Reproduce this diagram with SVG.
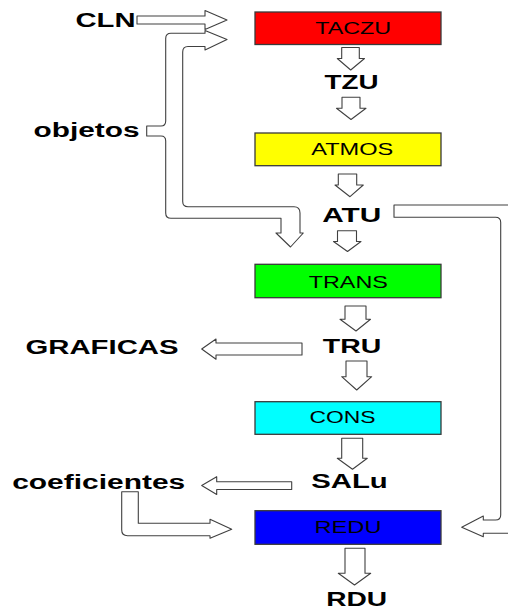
<svg xmlns="http://www.w3.org/2000/svg" width="508" height="609" viewBox="0 0 508 609">
<style>
.box{stroke:#3a3a3a;stroke-width:1.3}
.bl{font-family:"Liberation Sans",Arial,sans-serif;font-size:16.5px;fill:#000}
.lb{font-family:"Liberation Sans",Arial,sans-serif;font-size:20px;font-weight:bold;fill:#000}
.ar{fill:#fff;stroke:#404040;stroke-width:1.1;stroke-linejoin:round}
</style>
<rect width="508" height="609" fill="#fff"/>
<g id="connectors">
<path class="ar" d="M137,16 H205 V10.5 L227,20 L205,29.5 V24 H137 Z"/>
<path class="ar" d="M205,30.5 L227,39.5 L205,50 V46.5 H188 Q182.7,46.5 182.7,52 V201.5 Q182.7,206.7 188,206.7 H294 Q300,206.7 300,213 V233 H303.3 L290.5,247 L276,233 H281 V218.3 H171 Q165.7,218.3 165.7,213 V141 Q165.7,136 161,136 H146.7 V126 H161 Q165.7,126 165.7,121 V38.5 Q165.7,33.3 171,33.3 H205 Z"/>
<path class="ar" d="M341.7,47.5 H359.3 V58.5 H364.5 L350.7,70 L337.3,58.5 H341.7 Z"/>
<path class="ar" d="M342,97.3 H360 V108.3 H366 L351,119.5 L336.5,108.3 H342 Z"/>
<path class="ar" d="M338.3,174 H356.7 V185 H363.3 L350,196.7 L335,185 H338.3 Z"/>
<path class="ar" d="M337.5,230.7 H356.5 V241.5 H361 L347.5,251.5 L333.5,241.5 H337.5 Z"/>
<path class="ar" d="M345,306 H366 V319.3 H370.5 L356,331 L340,319.3 H345 Z"/>
<path class="ar" d="M346,361 H367 V376.7 H371.7 L356.7,390 L341.7,376.7 H346 Z"/>
<path class="ar" d="M341.7,438.3 H362.7 V458.3 H367.3 L352.5,469.3 L337.3,458.3 H341.7 Z"/>
<path class="ar" d="M345,548.3 H365 V573.3 H370.7 L354.5,585 L338.3,573.3 H345 Z"/>
<path class="ar" d="M302,343 V355 H216 V359.3 L201.7,349 L216,339 V343 Z"/>
<path class="ar" d="M291.7,481.7 V489.5 H216.7 V494.5 L201.7,485.5 L216.7,476.7 V481.7 Z"/>
<path class="ar" d="M121.7,491.7 H138.3 V523.3 H210 V519.3 L231.7,529.3 L210,538.3 V535.7 H127.5 Q121.7,535.7 121.7,530 Z"/>
<path class="ar" d="M394,205 H515 V533.3 H483.3 V536.7 L461.7,527.3 L483.3,516 V520 H495.5 Q500.7,520 500.7,515 V222.5 Q500.7,217.3 495.5,217.3 H394 Z"/>
</g>
<g id="TACZU"><rect class="box" x="255" y="12" width="186" height="32.5" fill="#ff0000"/><text class="bl" x="315.2" y="34.3" textLength="76" lengthAdjust="spacingAndGlyphs">TACZU</text></g>
<g id="ATMOS"><rect class="box" x="255" y="133" width="186" height="32.7" fill="#ffff00"/><text class="bl" x="311.2" y="155" textLength="82" lengthAdjust="spacingAndGlyphs">ATMOS</text></g>
<g id="TRANS"><rect class="box" x="255" y="264.3" width="186" height="33.4" fill="#00ff00"/><text class="bl" x="308.8" y="288.3" textLength="79" lengthAdjust="spacingAndGlyphs">TRANS</text></g>
<g id="CONS"><rect class="box" x="255" y="401.7" width="186" height="32.6" fill="#00ffff"/><text class="bl" x="309.5" y="422.7" textLength="66" lengthAdjust="spacingAndGlyphs">CONS</text></g>
<g id="REDU"><rect class="box" x="255" y="510.7" width="186" height="33.6" fill="#0000ff"/><text class="bl" x="314.5" y="533.3" textLength="67" lengthAdjust="spacingAndGlyphs" fill="#000010">REDU</text></g>
<g id="CLN"><text class="lb" x="75.5" y="27" textLength="60" lengthAdjust="spacingAndGlyphs">CLN</text></g>
<g id="objetos"><text class="lb" x="33.5" y="136.5" textLength="106" lengthAdjust="spacingAndGlyphs">objetos</text></g>
<g id="TZU"><text class="lb" x="324.5" y="89" textLength="54" lengthAdjust="spacingAndGlyphs">TZU</text></g>
<g id="ATU"><text class="lb" x="322.2" y="221.5" textLength="59" lengthAdjust="spacingAndGlyphs">ATU</text></g>
<g id="GRAFICAS"><text class="lb" x="25.5" y="354.3" textLength="153" lengthAdjust="spacingAndGlyphs">GRAFICAS</text></g>
<g id="TRU"><text class="lb" x="322.8" y="353.3" textLength="58.5" lengthAdjust="spacingAndGlyphs">TRU</text></g>
<g id="coeficientes"><text class="lb" x="12.2" y="489.3" textLength="173" lengthAdjust="spacingAndGlyphs">coeficientes</text></g>
<g id="SALu"><text class="lb" x="311.2" y="488.3" textLength="76.5" lengthAdjust="spacingAndGlyphs">SALu</text></g>
<g id="RDU"><text class="lb" x="326.2" y="605.5" textLength="61" lengthAdjust="spacingAndGlyphs">RDU</text></g>
</svg>
